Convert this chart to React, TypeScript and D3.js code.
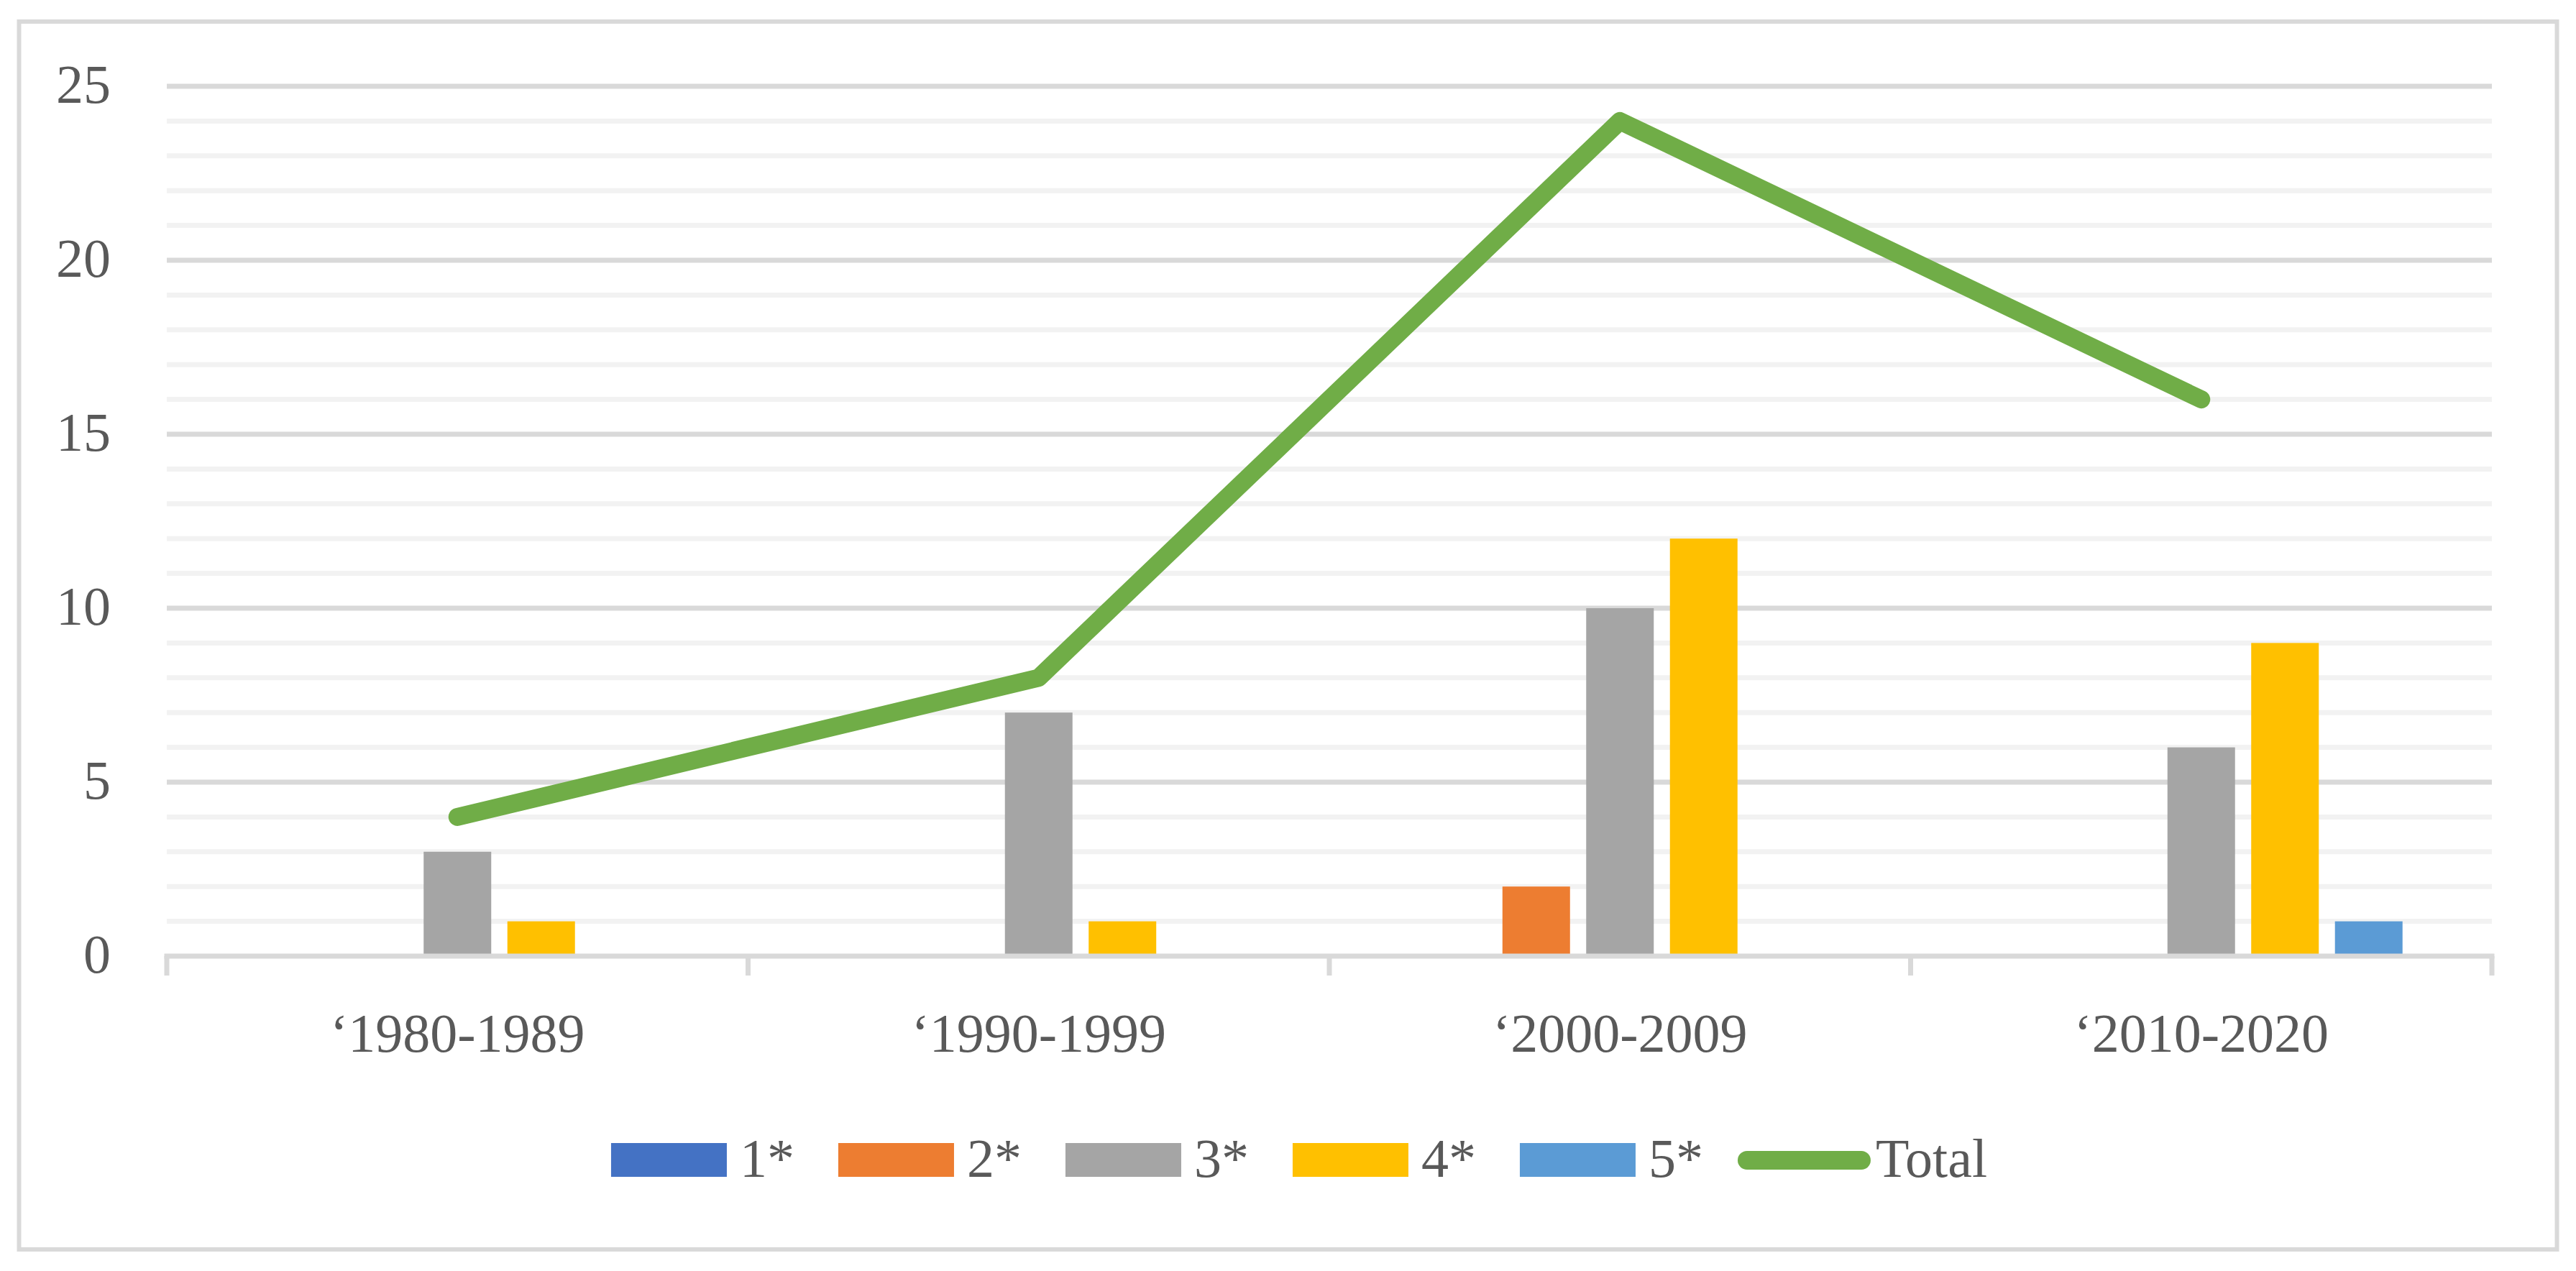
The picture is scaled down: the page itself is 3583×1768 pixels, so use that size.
import React, { useEffect, useRef } from 'react';
import * as d3 from 'd3';

const categories = ['‘1980-1989', '‘1990-1999', '‘2000-2009', '‘2010-2020'];
const seriesNames = ['1*', '2*', '3*', '4*', '5*'];
const seriesColors = ['#4472c4', '#ed7d31', '#a5a5a5', '#ffc000', '#5b9bd5'];
const oneStar = [0, 0, 0, 0];
const twoStar = [0, 0, 2, 0];
const threeStar = [3, 7, 10, 6];
const fourStar = [1, 1, 12, 9];
const fiveStar = [0, 0, 0, 1];
const totals = [4, 8, 24, 16];
const yTicks = [0, 5, 10, 15, 20, 25];

const WIDTH = 3583;
const HEIGHT = 1768;
const FONT = '"Liberation Serif", "Times New Roman", serif';
const TEXT = '#595959';
const GRID = '#d9d9d9';
const MINOR = '#f2f2f2';
const LINE_COLOR = '#70ad47';

const App = () => {
    const svgRef = useRef<SVGSVGElement | null>(null);

    useEffect(() => {
        document.body.style.margin = '0';
        document.body.style.overflow = 'hidden';
        if (!svgRef.current) return;
        const svg = d3.select(svgRef.current);
        svg.selectAll('*').remove();

        const seriesValues = [oneStar, twoStar, threeStar, fourStar, fiveStar];

        // scales
        const x = d3.scaleBand<string>().domain(categories).range([232, 3466]);
        const x1 = d3
            .scaleBand<string>()
            .domain(seriesNames)
            .range([0, x.bandwidth()])
            .paddingInner(0.193)
            .paddingOuter(1.067);
        const y = d3.scaleLinear().domain([0, 25]).range([1330, 120]);

        // outer frame
        svg.append('rect')
            .attr('x', 26.5).attr('y', 30)
            .attr('width', 3530).attr('height', 1708)
            .attr('fill', '#fff')
            .attr('stroke', GRID)
            .attr('stroke-width', 6);

        // gridlines
        const minorVals = d3.range(1, 25).filter((v) => v % 5 !== 0);
        svg.append('g')
            .selectAll('line')
            .data(minorVals)
            .enter()
            .append('line')
            .attr('x1', x.range()[0]).attr('x2', x.range()[1])
            .attr('y1', (d) => y(d)).attr('y2', (d) => y(d))
            .attr('stroke', MINOR)
            .attr('stroke-width', 7);
        svg.append('g')
            .selectAll('line')
            .data(yTicks.filter((v) => v > 0))
            .enter()
            .append('line')
            .attr('x1', x.range()[0]).attr('x2', x.range()[1])
            .attr('y1', (d) => y(d)).attr('y2', (d) => y(d))
            .attr('stroke', GRID)
            .attr('stroke-width', 7);

        // y labels
        svg.append('g')
            .selectAll('text')
            .data(yTicks)
            .enter()
            .append('text')
            .attr('x', 154)
            .attr('y', (d) => y(d) + 23)
            .attr('text-anchor', 'end')
            .attr('font-family', FONT)
            .attr('font-size', 76)
            .attr('fill', TEXT)
            .text((d) => d);

        // bars
        const bars = svg.append('g');
        seriesValues.forEach((vals, si) => {
            bars.selectAll(`rect.s${si}`)
                .data(vals.map((v, i) => ({ v, c: categories[i] })).filter((d) => d.v > 0))
                .enter()
                .append('rect')
                .attr('class', `s${si}`)
                .attr('x', (d) => (x(d.c) as number) + (x1(seriesNames[si]) as number))
                .attr('y', (d) => y(d.v))
                .attr('width', x1.bandwidth())
                .attr('height', (d) => y(0) - y(d.v))
                .attr('fill', seriesColors[si]);
        });

        // x axis
        const [r0, r1] = x.range();
        svg.append('line')
            .attr('x1', r0 - 3.5).attr('x2', r1 + 3.5)
            .attr('y1', y(0)).attr('y2', y(0))
            .attr('stroke', GRID).attr('stroke-width', 7);
        const tickXs = categories.map((c) => x(c) as number).concat([r1]);
        svg.append('g')
            .selectAll('line')
            .data(tickXs)
            .enter()
            .append('line')
            .attr('x1', (d) => d).attr('x2', (d) => d)
            .attr('y1', y(0)).attr('y2', y(0) + 27)
            .attr('stroke', GRID).attr('stroke-width', 7);
        svg.append('g')
            .selectAll('text')
            .data(categories)
            .enter()
            .append('text')
            .attr('x', (d) => (x(d) as number) + x.bandwidth() / 2)
            .attr('y', 1463)
            .attr('text-anchor', 'middle')
            .attr('font-family', FONT)
            .attr('font-size', 76)
            .attr('fill', TEXT)
            .text((d) => d);

        // total line
        const line = d3
            .line<number>()
            .x((_, i) => (x(categories[i]) as number) + x.bandwidth() / 2)
            .y((d) => y(d));
        svg.append('path')
            .datum(totals)
            .attr('d', line)
            .attr('fill', 'none')
            .attr('stroke', LINE_COLOR)
            .attr('stroke-width', 25)
            .attr('stroke-linecap', 'round')
            .attr('stroke-linejoin', 'round');

        // legend
        const legend = svg.append('g');
        const items = seriesNames.map((n, i) => ({ name: n, color: seriesColors[i], kind: 'box' }))
            .concat([{ name: 'Total', color: LINE_COLOR, kind: 'line' }]);
        const symW = 161;
        const symGap = 18;
        const itemGap = 61;
        const baseline = 1637;
        const groups = items.map((it) => {
            const g = legend.append('g');
            const t = g.append('text')
                .attr('x', symW + symGap)
                .attr('y', baseline)
                .attr('font-family', FONT)
                .attr('font-size', 76)
                .attr('fill', TEXT)
                .text(it.name);
            if (it.kind === 'box') {
                g.append('rect')
                    .attr('x', 0).attr('y', 1590)
                    .attr('width', symW).attr('height', 47)
                    .attr('fill', it.color);
            } else {
                g.append('line')
                    .attr('x1', 0).attr('x2', symW - 2)
                    .attr('y1', 1614).attr('y2', 1614)
                    .attr('stroke', it.color)
                    .attr('stroke-width', 26)
                    .attr('stroke-linecap', 'round');
            }
            const w = symW + symGap + (t.node() as SVGTextElement).getComputedTextLength();
            return { g, w };
        });
        const total = d3.sum(groups, (d) => d.w) + itemGap * (groups.length - 1);
        let cx = 1807 - total / 2;
        groups.forEach(({ g, w }) => {
            g.attr('transform', `translate(${cx},0)`);
            cx += w + itemGap;
        });
    }, []);

    return (
        <svg
            ref={svgRef}
            width={WIDTH}
            height={HEIGHT}
            style={{ position: 'absolute', left: 0, top: 0, background: '#fff' }}
        ></svg>
    );
};

export default App;
